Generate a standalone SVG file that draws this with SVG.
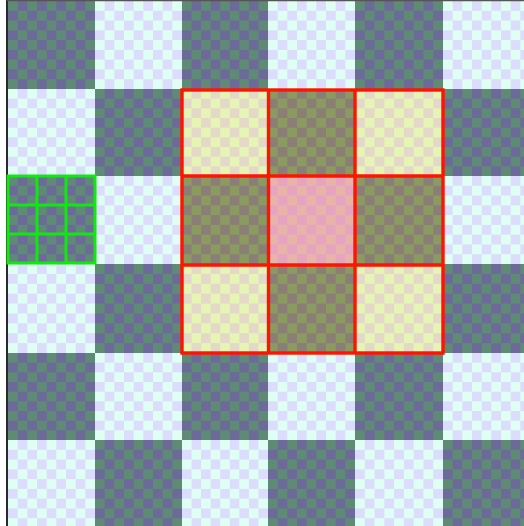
<svg xmlns="http://www.w3.org/2000/svg" width="524" height="526" viewBox="0 0 524 526">
<defs>
<style>
.red{fill:none;stroke:#ff1400;stroke-width:3.4}
.grn{fill:none;stroke:#10e810;stroke-width:3}
</style>
<pattern id="pD" patternUnits="objectBoundingBox" patternContentUnits="objectBoundingBox" width="0.2222222" height="0.2222222"><rect width="0.2222222" height="0.2222222" fill="#6b6a98"/><rect width="0.1111111" height="0.1111111" fill="#5f8a76"/><rect x="0.1111111" y="0.1111111" width="0.1111111" height="0.1111111" fill="#5f8a76"/></pattern>
<pattern id="pL" patternUnits="objectBoundingBox" patternContentUnits="objectBoundingBox" width="0.2222222" height="0.2222222"><rect width="0.2222222" height="0.2222222" fill="#dcdcfc"/><rect width="0.1111111" height="0.1111111" fill="#e0fff4"/><rect x="0.1111111" y="0.1111111" width="0.1111111" height="0.1111111" fill="#e0fff4"/></pattern>
<pattern id="pHL" patternUnits="objectBoundingBox" patternContentUnits="objectBoundingBox" width="0.2222222" height="0.2222222"><rect width="0.2222222" height="0.2222222" fill="#e4d8c8"/><rect width="0.1111111" height="0.1111111" fill="#e6f4b6"/><rect x="0.1111111" y="0.1111111" width="0.1111111" height="0.1111111" fill="#e6f4b6"/></pattern>
<pattern id="pHD" patternUnits="objectBoundingBox" patternContentUnits="objectBoundingBox" width="0.2222222" height="0.2222222"><rect width="0.2222222" height="0.2222222" fill="#8a7e76"/><rect width="0.1111111" height="0.1111111" fill="#8a9a60"/><rect x="0.1111111" y="0.1111111" width="0.1111111" height="0.1111111" fill="#8a9a60"/></pattern>
<pattern id="pC" patternUnits="objectBoundingBox" patternContentUnits="objectBoundingBox" width="0.2222222" height="0.2222222"><rect width="0.2222222" height="0.2222222" fill="#e6a4c0"/><rect width="0.1111111" height="0.1111111" fill="#e8b4aa"/><rect x="0.1111111" y="0.1111111" width="0.1111111" height="0.1111111" fill="#e8b4aa"/></pattern>
</defs>
<rect width="524" height="526" fill="#ffffff"/>
<g id="board" shape-rendering="crispEdges">
<rect x="8" y="1" width="87" height="88" fill="url(#pD)"/>
<rect x="95" y="1" width="87" height="88" fill="url(#pL)"/>
<rect x="182" y="1" width="86" height="88" fill="url(#pD)"/>
<rect x="268" y="1" width="87" height="88" fill="url(#pL)"/>
<rect x="355" y="1" width="88" height="88" fill="url(#pD)"/>
<rect x="443" y="1" width="87" height="88" fill="url(#pL)"/>
<rect x="8" y="89" width="87" height="87" fill="url(#pL)"/>
<rect x="95" y="89" width="87" height="87" fill="url(#pD)"/>
<rect x="182" y="89" width="86" height="87" fill="url(#pHL)"/>
<rect x="268" y="89" width="87" height="87" fill="url(#pHD)"/>
<rect x="355" y="89" width="88" height="87" fill="url(#pHL)"/>
<rect x="443" y="89" width="87" height="87" fill="url(#pD)"/>
<rect x="8" y="176" width="87" height="88" fill="url(#pD)"/>
<rect x="95" y="176" width="87" height="88" fill="url(#pL)"/>
<rect x="182" y="176" width="86" height="88" fill="url(#pHD)"/>
<rect x="268" y="176" width="87" height="88" fill="url(#pC)"/>
<rect x="355" y="176" width="88" height="88" fill="url(#pHD)"/>
<rect x="443" y="176" width="87" height="88" fill="url(#pL)"/>
<rect x="8" y="264" width="87" height="89" fill="url(#pL)"/>
<rect x="95" y="264" width="87" height="89" fill="url(#pD)"/>
<rect x="182" y="264" width="86" height="89" fill="url(#pHL)"/>
<rect x="268" y="264" width="87" height="89" fill="url(#pHD)"/>
<rect x="355" y="264" width="88" height="89" fill="url(#pHL)"/>
<rect x="443" y="264" width="87" height="89" fill="url(#pD)"/>
<rect x="8" y="353" width="87" height="87" fill="url(#pD)"/>
<rect x="95" y="353" width="87" height="87" fill="url(#pL)"/>
<rect x="182" y="353" width="86" height="87" fill="url(#pD)"/>
<rect x="268" y="353" width="87" height="87" fill="url(#pL)"/>
<rect x="355" y="353" width="88" height="87" fill="url(#pD)"/>
<rect x="443" y="353" width="87" height="87" fill="url(#pL)"/>
<rect x="8" y="440" width="87" height="88" fill="url(#pL)"/>
<rect x="95" y="440" width="87" height="88" fill="url(#pD)"/>
<rect x="182" y="440" width="86" height="88" fill="url(#pL)"/>
<rect x="268" y="440" width="87" height="88" fill="url(#pD)"/>
<rect x="355" y="440" width="88" height="88" fill="url(#pL)"/>
<rect x="443" y="440" width="87" height="88" fill="url(#pD)"/>
</g>
<g id="frame">
<line x1="7" y1="0" x2="7" y2="526" stroke="#2a2a2a" stroke-width="2"/>
<line x1="7" y1="0.6" x2="524" y2="0.6" stroke="#555555" stroke-width="1.2"/>
</g>
<g id="green-grid">
<rect class="grn" x="8" y="176" width="87" height="87"/>
<line class="grn" x1="37" y1="176" x2="37" y2="263"/>
<line class="grn" x1="66" y1="176" x2="66" y2="263"/>
<line class="grn" x1="8" y1="205" x2="95" y2="205"/>
<line class="grn" x1="8" y1="234" x2="95" y2="234"/>
</g>
<g id="red-grid">
<rect class="red" x="182" y="90" width="261" height="263"/>
<line class="red" x1="268.5" y1="90" x2="268.5" y2="353"/>
<line class="red" x1="355" y1="90" x2="355" y2="353"/>
<line class="red" x1="182" y1="176" x2="443" y2="176"/>
<line class="red" x1="182" y1="265" x2="443" y2="265"/>
</g>
</svg>
